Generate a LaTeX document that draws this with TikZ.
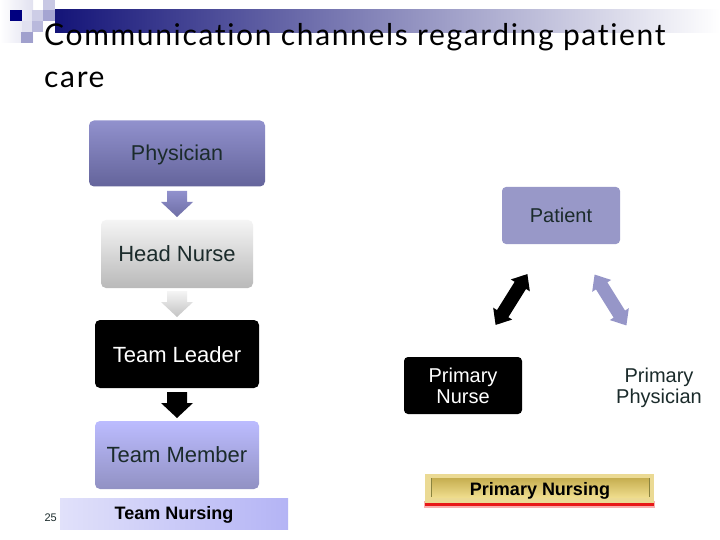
\documentclass[tikz,border=0pt]{standalone}
\usepackage{fontspec}
\setmainfont{Liberation Sans}
\newfontfamily\titlefont[LetterSpace=5.5,Ligatures=NoCommon]{Lato}
\usetikzlibrary{shapes.arrows}
\definecolor{inkt}{HTML}{1B2B2B}
\definecolor{peri}{HTML}{9696C8}
\definecolor{bandnavy}{HTML}{141478}
\definecolor{physT}{HTML}{9191CD}
\definecolor{physB}{HTML}{64649B}
\definecolor{arrB}{HTML}{6E6EA5}
\definecolor{greyT}{HTML}{F5F5F5}
\definecolor{greyB}{HTML}{B9B9B9}
\definecolor{arrgB}{HTML}{C3C3C3}
\definecolor{membT}{HTML}{BCBCFF}
\definecolor{membB}{HTML}{9191C3}
\definecolor{capL}{HTML}{E1E1FA}
\definecolor{capR}{HTML}{B4B4F5}
\definecolor{patc}{HTML}{9898C8}
\definecolor{goldT}{HTML}{EBDA94}
\definecolor{goldM}{HTML}{C6AE50}
\definecolor{goldB}{HTML}{EEDC8C}
\definecolor{goldE}{HTML}{8A8440}
\definecolor{redglow}{HTML}{F8B0B0}
\definecolor{redbar}{HTML}{E81818}
\definecolor{sqA}{HTML}{C8C8E4}
\definecolor{sqB}{HTML}{CDCDE6}
\definecolor{sqC}{HTML}{A5A5D2}
\definecolor{sqD}{HTML}{000080}
\definecolor{sqE}{HTML}{E1E1F0}
\definecolor{sqF}{HTML}{A0A0CD}
\definecolor{sqG}{HTML}{B9B9DC}
\newcommand{\dnarrowshape}[1]{(167,#1) -- (187,#1) -- (187,#1+11) -- (193,#1+11) -- (177,#1+26) -- (161,#1+11) -- (167,#1+11) -- cycle}
\tikzset{
 x=1pt,y=-1pt,
 flowbox/.style={rounded corners=5pt,minimum height=66pt,inner sep=0pt,text=inkt,font=\fontsize{22}{24}\selectfont,align=center},
 flatbox/.style={rounded corners=4pt,inner sep=0pt,font=\fontsize{20}{21}\selectfont,align=center},
 dbl/.style={double arrow,double arrow head extend=4.5pt,double arrow tip angle=80,inner xsep=0pt,inner ysep=6.5pt,minimum width=22pt,minimum height=60pt,double arrow head indent=0pt},
 barlabel/.style={font=\bfseries\fontsize{18}{20}\selectfont,text=black},
}
\begin{document}
\begin{tikzpicture}
\useasboundingbox (0,0) rectangle (720,540);
\fill[white] (0,0) rectangle (720,540);
% header band
\shade[left color=bandnavy,right color=white] (55,10) rectangle (720,33);
% logo squares
\shade[left color=white,right color=sqE] (0,0) rectangle (33,43);
\fill[sqA] (43,0) rectangle (55,10);
\fill[sqB] (32,10) rectangle (43,21);
\fill[sqC] (43,10) rectangle (55,21);
\fill[sqD] (10,10) rectangle (22,21);
\fill[sqE] (22,21) rectangle (32,32);
\fill[sqG] (32,21) rectangle (43,32);
\fill[sqF] (21,32) rectangle (33,43);
% title
\node[anchor=base west,inner sep=0pt,font=\titlefont\fontsize{30}{32}\selectfont] (t1) at (44,46) {Communication channels regarding patient};
\node[anchor=base west,inner sep=0pt,font=\titlefont\fontsize{30}{32}\selectfont] (t2) at (44,88) {care};
% left flow
\node[flowbox,minimum width=176pt,top color=physT,bottom color=physB] (phys) at (177,153.5) {};
\node[inner sep=0pt,text=inkt,font=\fontsize{21.5}{24}\selectfont] (physl) at (177,155) {Physician};
\shade[top color=physT,bottom color=arrB] \dnarrowshape{191};
\node[flowbox,minimum width=152pt,minimum height=68pt,top color=greyT,bottom color=greyB] (head) at (177,254) {Head Nurse};
\shade[top color=greyT,bottom color=arrgB] \dnarrowshape{291};
\node[flowbox,minimum width=164pt,minimum height=68pt,fill=black] (lead) at (177,354) {};
\node[inner sep=0pt,text=white,font=\fontsize{22}{24}\selectfont] (leadl) at (177,355) {Team Leader};
\fill[black] \dnarrowshape{392};
\node[flowbox,minimum width=164pt,minimum height=68pt,top color=membT,bottom color=membB] (memb) at (177,455) {Team Member};
% captions
\node[inner sep=0pt,minimum width=228pt,minimum height=31pt,left color=capL,right color=capR] (tn) at (174,513.5) {};
\node[barlabel] (tnl) at (174,515) {Team Nursing};
\node[anchor=east,inner sep=0pt,font=\fontsize{11}{12}\selectfont,text=inkt] (num) at (57,518) {25};
% right
\node[flatbox,minimum width=118pt,minimum height=57pt,fill=patc,text=inkt] (pat) at (561,215.5) {Patient};
\node[flatbox,minimum width=118pt,minimum height=57pt,fill=black,text=white] (pn) at (463,385.5) {Primary\\Nurse};
\node[inner sep=0pt,font=\fontsize{20}{21}\selectfont,align=center,text=inkt] (pp) at (659,387.5) {Primary\\Physician};
\node[dbl,fill=black,rotate=58] (d1) at (511.5,299.5) {};
\node[dbl,fill=peri,rotate=-58] (d2) at (610.5,300) {};
% primary nursing bar
\fill[redglow] (424,501) rectangle (655,508);
\fill[redbar] (425,503) rectangle (654,506);
\node[inner sep=0pt,minimum width=229pt,minimum height=29pt,fill=goldT] (pbar) at (539.5,488.5) {};
\shade[top color=goldM,bottom color=goldB] (431,478) rectangle (649,497);
\draw[goldE,line width=.8pt] (431,478) -- (431,497) (649,478) -- (649,497);
\node[barlabel] (pl) at (540,491) {Primary Nursing};
\end{tikzpicture}
\end{document}
